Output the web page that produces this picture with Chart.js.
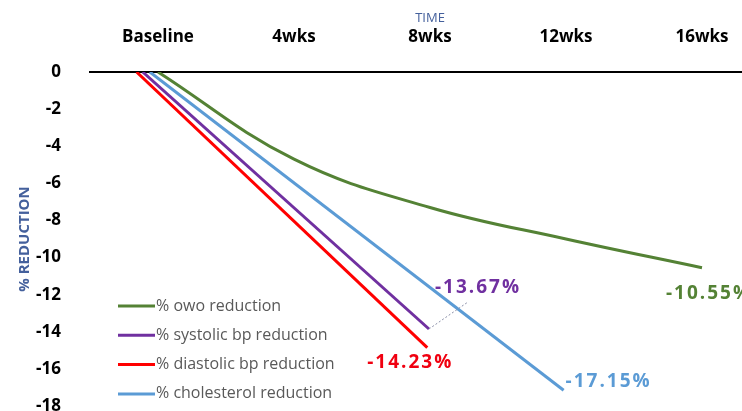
<!DOCTYPE html>
<html>
<head>
<meta charset="utf-8">
<script src="https://cdn.jsdelivr.net/npm/chart.js@4.4.0/dist/chart.umd.min.js"></script>
<style>
    html, body { margin: 0; padding: 0; background: #fff; overflow: hidden; }
    canvas { display: block; }
</style>
</head>
<body>
<canvas id="chart" width="780" height="411"></canvas>
<script>
// eje X (semanas) y etiquetas
const tickWeeks = [0, 4, 8, 12, 16];
const tickLabels = ['Baseline', '4wks', '8wks', '12wks', '16wks'];

// series
const owoWeeks = [0, 4, 8, 12, 16];
const owoValues = [0, -4.7, -7.3, -9.0, -10.55];
const systolicWeeks = [-0.45, 7.97];
const systolicValues = [0, -13.85];
const diastolicWeeks = [-0.63, 7.92];
const diastolicValues = [0, -14.85];
const cholesterolWeeks = [-0.24, 11.93];
const cholesterolValues = [0, -17.15];

const seriesNames = ['% owo reduction', '% systolic bp reduction', '% diastolic bp reduction', '% cholesterol reduction'];
const endLabels = ['-10.55%', '-13.67%', '-14.23%', '-17.15%'];

const colors = ['#548235', '#7030A0', '#FF0000', '#5B9BD5'];
const labelColors = ['#548235', '#7030A0', '#F00010', '#5B9BD5'];
// desplazamiento de cada etiqueta respecto al ultimo punto
const labelOffsets = [[7, 26], [49, -41], [-17, 15], [45, -9]];

const toPoints = (xs, ys) => xs.map((x, i) => ({ x: x, y: ys[i] }));

const endLabelPlugin = {
    id: 'endLabels',
    afterDatasetsDraw(chart) {
        const ctx = chart.ctx;
        ctx.save();
        chart.data.datasets.forEach((ds, i) => {
            const pts = chart.getDatasetMeta(i).data;
            const p = pts[pts.length - 1];
            const tx = p.x + labelOffsets[i][0];
            const ty = p.y + labelOffsets[i][1];
            if (i === 1) {
                // linea guia punteada
                ctx.strokeStyle = '#8a8fa8';
                ctx.lineWidth = 1;
                ctx.setLineDash([2, 2]);
                ctx.beginPath();
                ctx.moveTo(p.x, p.y);
                ctx.lineTo(p.x + 39, p.y - 27);
                ctx.stroke();
                ctx.setLineDash([]);
            }
            ctx.font = 'bold 19px "Open Sans"';
            ctx.letterSpacing = '2px';
            ctx.fillStyle = labelColors[i];
            ctx.textAlign = 'center';
            ctx.textBaseline = 'middle';
            ctx.fillText(endLabels[i], tx, ty);
        });
        ctx.restore();
    }
};

const legendPlugin = {
    id: 'innerLegend',
    afterDraw(chart) {
        const ctx = chart.ctx;
        ctx.save();
        ctx.font = '16px "Open Sans"';
        ctx.textAlign = 'left';
        ctx.textBaseline = 'middle';
        chart.data.datasets.forEach((ds, i) => {
            const y = 306 + i * 29.3;
            ctx.strokeStyle = ds.borderColor;
            ctx.lineWidth = 3;
            ctx.beginPath();
            ctx.moveTo(118, y);
            ctx.lineTo(155, y);
            ctx.stroke();
            ctx.fillStyle = '#595959';
            ctx.fillText(ds.label, 156, y);
        });
        ctx.restore();
    }
};

const makeSet = (i, xs, ys) => ({
    label: seriesNames[i],
    data: toPoints(xs, ys),
    borderColor: colors[i],
    backgroundColor: colors[i],
    borderWidth: 3,
    pointRadius: 0,
    fill: false,
    tension: i === 0 ? 0.4 : 0,
});

new Chart(document.getElementById('chart'), {
    type: 'line',
    data: {
        datasets: [
            makeSet(0, owoWeeks, owoValues),
            makeSet(1, systolicWeeks, systolicValues),
            makeSet(2, diastolicWeeks, diastolicValues),
            makeSet(3, cholesterolWeeks, cholesterolValues),
        ],
    },
    options: {
        animation: false,
        responsive: false,
        devicePixelRatio: 1,
        layout: { padding: { top: 0, left: 0, right: 10, bottom: 5 } },
        plugins: {
            legend: { display: false },
            tooltip: { enabled: false },
        },
        scales: {
            x: {
                type: 'linear',
                position: 'top',
                min: -2,
                max: 18,
                afterBuildTicks: (scale) => {
                    scale.ticks = tickWeeks.map(v => ({ value: v }));
                },
                afterFit: (scale) => { scale.height = 72; },
                grid: { display: false },
                border: { display: true, color: '#000', width: 2 },
                ticks: {
                    padding: 17,
                    color: '#000',
                    font: { family: 'Open Sans', size: 17, weight: 'bold' },
                    callback: (v) => tickLabels[tickWeeks.indexOf(v)] || '',
                },
                title: {
                    display: true,
                    text: 'TIME',
                    color: '#44609C',
                    font: { family: 'Open Sans', size: 13 },
                    padding: { top: 10, bottom: 0 },
                },
            },
            y: {
                min: -18,
                max: 0,
                afterFit: (scale) => {
                    scale.width = 90;
                    scale.paddingTop = 0;
                    scale.paddingBottom = 0;
                },
                grid: { display: false },
                border: { display: false },
                ticks: {
                    stepSize: 2,
                    padding: 21,
                    color: '#000',
                    font: { family: 'Open Sans', size: 17, weight: 'bold' },
                },
                title: {
                    display: true,
                    text: '% REDUCTION',
                    color: '#44609C',
                    font: { family: 'Open Sans', size: 15, weight: 'bold' },
                    padding: { top: 16, bottom: 0 },
                },
            },
        },
    },
    plugins: [endLabelPlugin, legendPlugin],
});
</script>
</body>
</html>
